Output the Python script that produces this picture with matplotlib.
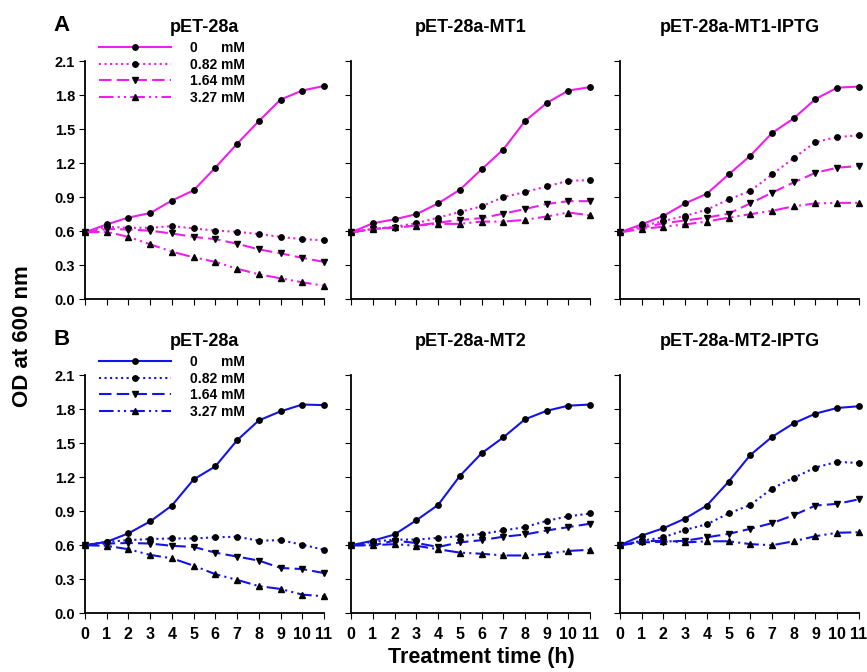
import matplotlib
matplotlib.use("Agg")
from matplotlib import pyplot as plt

plt.rcParams['font.family'] = ['Liberation Sans', 'DejaVu Sans']
plt.rcParams['font.weight'] = 'bold'

# Treatment time (h)
hours = list(range(12))
conc_labels = ['0      mM', '0.82 mM', '1.64 mM', '3.27 mM']

# A: pET-28a / pET-28a-MT1 / pET-28a-MT1-IPTG
a_ctrl = [[0.59, 0.66, 0.72, 0.76, 0.87, 0.96, 1.16, 1.37, 1.57, 1.76, 1.84, 1.88],
          [0.59, 0.64, 0.63, 0.63, 0.645, 0.625, 0.605, 0.595, 0.575, 0.55, 0.53, 0.52],
          [0.59, 0.62, 0.615, 0.605, 0.58, 0.55, 0.53, 0.49, 0.44, 0.405, 0.365, 0.33],
          [0.59, 0.595, 0.55, 0.485, 0.42, 0.37, 0.33, 0.27, 0.22, 0.185, 0.15, 0.12]]
a_mt1 = [[0.59, 0.67, 0.705, 0.75, 0.845, 0.965, 1.145, 1.32, 1.57, 1.73, 1.84, 1.87],
         [0.59, 0.62, 0.64, 0.67, 0.72, 0.77, 0.82, 0.90, 0.945, 0.995, 1.045, 1.05],
         [0.59, 0.62, 0.63, 0.65, 0.675, 0.70, 0.715, 0.755, 0.795, 0.84, 0.865, 0.865],
         [0.59, 0.62, 0.635, 0.65, 0.665, 0.665, 0.685, 0.685, 0.70, 0.73, 0.765, 0.74]]
a_mt1_iptg = [[0.59, 0.66, 0.735, 0.845, 0.93, 1.10, 1.265, 1.465, 1.595, 1.765, 1.865, 1.875],
              [0.59, 0.645, 0.69, 0.735, 0.79, 0.88, 0.955, 1.10, 1.245, 1.385, 1.43, 1.445],
              [0.59, 0.63, 0.67, 0.695, 0.72, 0.755, 0.845, 0.94, 1.03, 1.115, 1.16, 1.175],
              [0.59, 0.62, 0.64, 0.66, 0.685, 0.72, 0.75, 0.78, 0.82, 0.845, 0.85, 0.85]]

# B: pET-28a / pET-28a-MT2 / pET-28a-MT2-IPTG
b_ctrl = [[0.60, 0.63, 0.705, 0.81, 0.95, 1.18, 1.295, 1.525, 1.70, 1.78, 1.84, 1.835],
          [0.60, 0.63, 0.645, 0.655, 0.66, 0.66, 0.67, 0.675, 0.64, 0.645, 0.605, 0.56],
          [0.60, 0.615, 0.62, 0.615, 0.595, 0.585, 0.535, 0.50, 0.465, 0.40, 0.39, 0.355],
          [0.60, 0.595, 0.565, 0.515, 0.485, 0.42, 0.345, 0.295, 0.24, 0.215, 0.165, 0.15]]
b_mt2 = [[0.60, 0.64, 0.695, 0.82, 0.955, 1.21, 1.41, 1.55, 1.71, 1.785, 1.83, 1.84],
         [0.60, 0.63, 0.65, 0.65, 0.665, 0.68, 0.70, 0.73, 0.76, 0.815, 0.855, 0.88],
         [0.60, 0.60, 0.64, 0.62, 0.585, 0.625, 0.645, 0.675, 0.695, 0.73, 0.76, 0.79],
         [0.60, 0.60, 0.61, 0.595, 0.565, 0.535, 0.525, 0.51, 0.51, 0.525, 0.55, 0.56]]
b_mt2_iptg = [[0.60, 0.685, 0.75, 0.835, 0.95, 1.16, 1.395, 1.555, 1.675, 1.76, 1.81, 1.825],
              [0.60, 0.64, 0.67, 0.735, 0.785, 0.88, 0.955, 1.10, 1.195, 1.285, 1.335, 1.325],
              [0.60, 0.625, 0.63, 0.64, 0.67, 0.70, 0.745, 0.795, 0.865, 0.95, 0.965, 1.005],
              [0.60, 0.635, 0.64, 0.625, 0.635, 0.635, 0.61, 0.60, 0.635, 0.68, 0.71, 0.715]]

titles = [['pET-28a', 'pET-28a-MT1', 'pET-28a-MT1-IPTG'],
          ['pET-28a', 'pET-28a-MT2', 'pET-28a-MT2-IPTG']]
data = [[a_ctrl, a_mt1, a_mt1_iptg], [b_ctrl, b_mt2, b_mt2_iptg]]
colors = ['#ee1eee', '#1414e8']
panel_tags = ['A', 'B']

styles = ['-', ':', (0, (6, 2.5)), (0, (7, 2, 1, 2, 1, 2))]
markers = ['o', 'o', 'v', '^']
msizes = [3.9, 3.9, 4.0, 4.0]

fig = plt.figure(figsize=(8.67, 6.72), dpi=100)
lefts = [0.098, 0.405, 0.715]
bottoms = [0.5546, 0.0873]

for r in range(2):
    for c in range(3):
        ax = fig.add_axes([lefts[c], bottoms[r], 0.2757, 0.3546])
        for k in range(4):
            ax.plot(hours, data[r][c][k], color=colors[r], ls=styles[k], lw=1.5,
                    marker=markers[k], ms=msizes[k], mfc='black', mec='black',
                    clip_on=False, label=conc_labels[k])
        ax.set_xlim(0, 11)
        ax.set_ylim(0, 2.1)
        ax.set_xticks(hours)
        ax.set_yticks([0.0, 0.3, 0.6, 0.9, 1.2, 1.5, 1.8, 2.1])
        ax.spines['top'].set_visible(False)
        ax.spines['right'].set_visible(False)
        ax.spines['left'].set_linewidth(1.3)
        ax.spines['bottom'].set_linewidth(1.3)
        ax.tick_params(direction='out', length=4, width=0.8, labelsize=10.5, pad=3)
        if c == 0:
            ax.set_yticklabels(['0.0', '0.3', '0.6', '0.9', '1.2', '1.5', '1.8', '2.1'],
                               fontweight='bold')
        else:
            ax.set_yticklabels([])
        if r == 1:
            ax.set_xticklabels([str(h) for h in hours], fontweight='bold', fontsize=11.5)
            ax.tick_params(axis='x', pad=6)
        else:
            ax.set_xticklabels([])
        ax.set_title(titles[r][c], fontsize=13, fontweight='bold', pad=21)
        if c == 0:
            ax.legend(loc='upper left', bbox_to_anchor=(0.057, 1.085),
                      frameon=False, handlelength=5.2, handletextpad=1.35,
                      labelspacing=0.2, borderpad=0, borderaxespad=0,
                      prop={'weight': 'bold', 'size': 10})
    fig.text(0.071, bottoms[r] + 0.3546 + 0.053, panel_tags[r], fontsize=16,
             fontweight='bold', ha='center', va='center')

fig.text(0.026, 0.5, 'OD at 600 nm', rotation=90, fontsize=16, fontweight='bold',
         ha='center', va='center')
fig.text(0.555, 0.022, 'Treatment time (h)', fontsize=15.5, fontweight='bold',
         ha='center', va='center')

plt.savefig('out.png', dpi=100)
